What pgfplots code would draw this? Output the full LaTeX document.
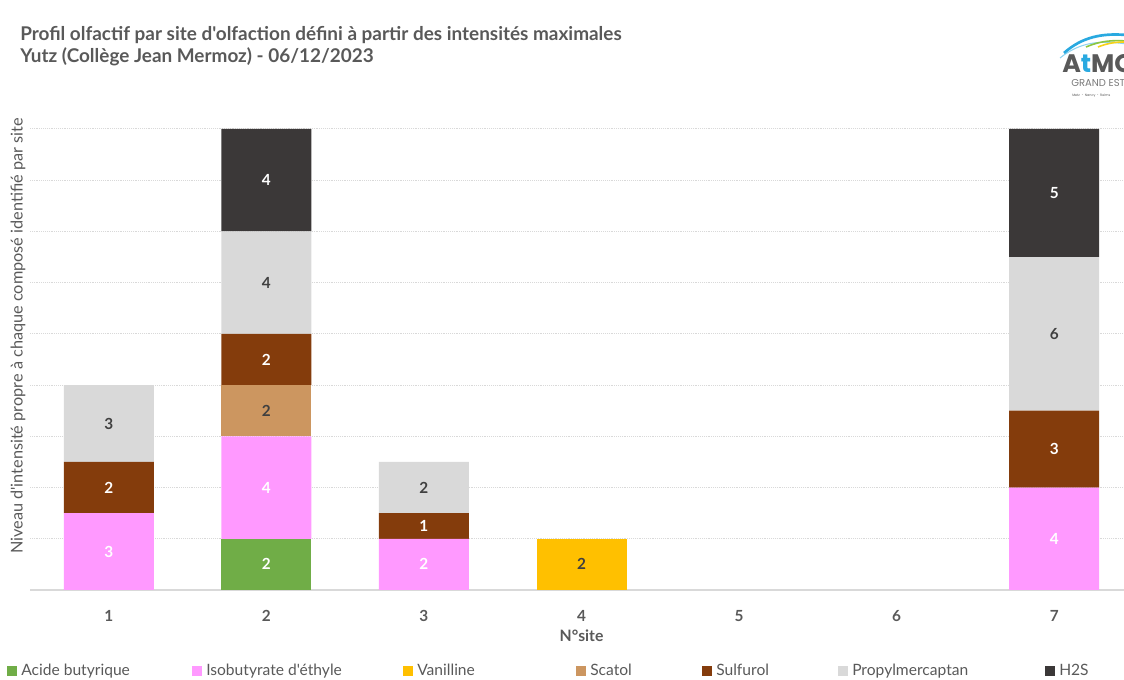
\documentclass[border=0pt]{standalone}
\usepackage{pgfplots}
\usepackage{pgfplotstable}
\pgfplotsset{compat=1.18}
\usepackage{fontspec}
\setmainfont{Lato}[Ligatures=TeXOff]
\newfontfamily\logofont{Poppins}
\definecolor{cgreen}{HTML}{70AD47}
\definecolor{cpink}{HTML}{FF99FF}
\definecolor{cvan}{HTML}{FFC000}
\definecolor{cscat}{HTML}{CC9660}
\definecolor{csulf}{HTML}{843C0C}
\definecolor{cprop}{HTML}{D9D9D9}
\definecolor{chs}{HTML}{3B3838}
\definecolor{ctxt}{HTML}{595959}
\definecolor{clab}{HTML}{404040}
\definecolor{cgrid}{HTML}{D9D9D9}
\definecolor{lblue}{HTML}{29A9E0}
\definecolor{lsky}{HTML}{8FD3F0}
\definecolor{lgreen}{HTML}{8DC63F}
\definecolor{lyellow}{HTML}{F7D117}

\pgfplotstableread{
site acide isob van scat sulf prop hs
1 0 3 0 0 2 3 0
2 2 4 0 2 2 4 4
3 0 2 0 0 1 2 0
4 0 0 2 0 0 0 0
5 0 0 0 0 0 0 0
6 0 0 0 0 0 0 0
7 0 4 0 0 3 6 5
}\datatable

\begin{document}
\begin{tikzpicture}
\useasboundingbox (0,0) rectangle (843pt,510pt);
\begin{axis}[
  at={(22.5pt,67.5pt)}, anchor=south west,
  scale only axis, width=827.25pt, height=345.75pt,
  ybar stacked, bar width=67.5pt,
  xmin=0.5, xmax=7.5, ymin=0, ymax=18,
  xtick={1,...,7}, xticklabels={1,2,3,4,5,6,7},
  ytick={0,2,...,18}, yticklabels={},
  ymajorgrids, grid style={densely dotted, cgrid, line width=0.75pt},
  axis line style={draw=none},
  major tick length=0pt,
  extra y ticks={0}, extra y tick labels={},
  extra y tick style={grid style={solid, cgrid, line width=1pt}},
  /pgf/number format/assume math mode=true,
  xticklabel style={anchor=center, yshift=-19.5pt, font=\fontsize{11.5pt}{13pt}\selectfont\bfseries, text=ctxt},
  xlabel={N°site},
  xlabel style={at={(axis description cs:0.5,0)}, anchor=center, yshift=-34.5pt, font=\fontsize{11.8pt}{13pt}\selectfont\bfseries, text=ctxt},
  ylabel={Niveau d'intensité propre à chaque composé identifié par site},
  ylabel style={at={(axis description cs:-0.0109,0.551)}, anchor=center, font=\fontsize{12.2pt}{14pt}\selectfont, text=ctxt},
  point meta=explicit,
  nodes near coords={\pgfmathfloatifflags{\pgfplotspointmeta}{0}{}{\pgfmathprintnumber{\pgfplotspointmeta}}},
  every node near coord/.append style={anchor=center, font=\fontsize{11.5pt}{13pt}\selectfont\bfseries},
  legend columns=7,
  legend style={at={(axis description cs:0,0)}, anchor=west, xshift=-17.25pt, yshift=-60.75pt, draw=none, fill=none, inner sep=0pt,
     font=\fontsize{11.7pt}{13pt}\selectfont, text=ctxt, nodes={inner sep=3pt},
     /tikz/every even column/.append style={column sep=0pt}},
  legend image code/.code={\fill[#1] (0pt,-3.75pt) rectangle (7.5pt,3.75pt);},
]
\addplot[fill=cgreen, draw=none, every node near coord/.append style={text=white}] table[x=site, y=acide, meta=acide] {\datatable};
\addlegendentry{\makebox[125.25pt][l]{Acide butyrique}}
\addplot[fill=cpink, draw=none, every node near coord/.append style={text=white}] table[x=site, y=isob, meta=isob] {\datatable};
\addlegendentry{\makebox[144.75pt][l]{Isobutyrate d'éthyle}}
\addplot[fill=cvan, draw=none, every node near coord/.append style={text=clab}] table[x=site, y=van, meta=van] {\datatable};
\addlegendentry{\makebox[116.25pt][l]{Vanilline}}
\addplot[fill=cscat, draw=none, every node near coord/.append style={text=clab}] table[x=site, y=scat, meta=scat] {\datatable};
\addlegendentry{\makebox[81pt][l]{Scatol}}
\addplot[fill=csulf, draw=none, every node near coord/.append style={text=white}] table[x=site, y=sulf, meta=sulf] {\datatable};
\addlegendentry{\makebox[88.5pt][l]{Sulfurol}}
\addplot[fill=cprop, draw=none, every node near coord/.append style={text=clab}] table[x=site, y=prop, meta=prop] {\datatable};
\addlegendentry{\makebox[141.75pt][l]{Propylmercaptan}}
\addplot[fill=chs, draw=none, every node near coord/.append style={text=white}] table[x=site, y=hs, meta=hs] {\datatable};
\addlegendentry{H2S}
\end{axis}
\begin{scope}[x=0.75pt, y=-0.75pt, shift={(0pt,510pt)}]
\node[anchor=base west, inner sep=0pt, text=ctxt, font=\fontsize{14.2pt}{16pt}\selectfont\bfseries] at (20,41) {Profil olfactif par site d'olfaction défini à partir des intensités maximales};
\node[anchor=base west, inner sep=0pt, text=ctxt, font=\fontsize{14.2pt}{16pt}\selectfont\bfseries] at (20,63) {Yutz (Collège Jean Mermoz) - 06/12/2023};
% logo
\draw[lsky, line width=0.8pt] (1060,58) .. controls (1080,42) and (1100,40) .. (1126,44);
\draw[lblue, line width=2pt] (1064,53) .. controls (1082,37) and (1102,33) .. (1126,35);
\draw[lgreen, line width=1.2pt] (1086,47) .. controls (1100,41) and (1112,40) .. (1126,41);
\draw[lyellow, line width=1.2pt] (1098,47) .. controls (1108,43) and (1116,42) .. (1126,42);
\node[anchor=base west, inner sep=0pt, text=ctxt, font=\logofont\fontsize{19pt}{21pt}\selectfont\bfseries] at (1062,73) {A\textcolor{lblue}{t}MO};
\node[anchor=base west, inner sep=0pt, text=ctxt!80, font=\logofont\fontsize{7.5pt}{9pt}\selectfont] at (1071,86.5) {GRAND EST};
\node[anchor=base west, inner sep=0pt, text=ctxt, font=\logofont\fontsize{2.5pt}{3pt}\selectfont] at (1072,97) {Metz $\cdot$ Nancy $\cdot$ Reims};
\end{scope}
\end{tikzpicture}
\end{document}
